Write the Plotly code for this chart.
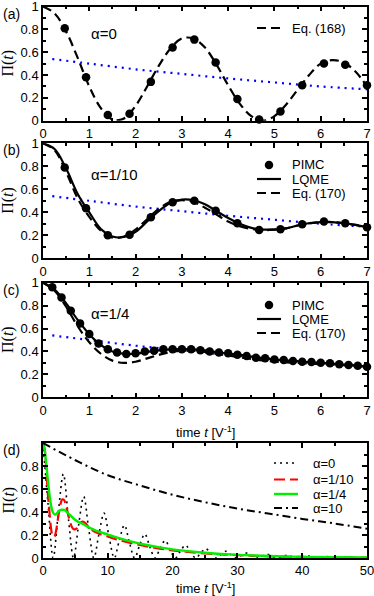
import plotly.graph_objects as go
from plotly.subplots import make_subplots

# ---- data ----
# common time grid for the curves of panels (a)-(c)
t_fine = [0, 0.25, 0.5, 0.75, 1.0, 1.25, 1.5, 1.75, 2.0, 2.25, 2.5, 2.75, 3.0, 3.25, 3.5,
          3.75, 4.0, 4.25, 4.5, 4.75, 5.0, 5.25, 5.5, 5.75, 6.0, 6.25, 6.5, 6.75, 7.0]

# blue dotted guide (same in a, b, c)
t_blue = [0.2, 1, 2, 3, 4, 5, 6, 7]
blue = [0.54, 0.50, 0.45, 0.41, 0.37, 0.335, 0.30, 0.275]

# (a) alpha = 0
t_pimc_ab = [0.47, 0.93, 1.4, 1.87, 2.33, 2.8, 3.27, 3.73, 4.2, 4.67, 5.13, 5.6, 6.07, 6.53, 7.0]
pimc_a = [0.81, 0.38, 0.05, 0.06, 0.34, 0.64, 0.71, 0.51, 0.19, 0.01, 0.08, 0.31, 0.50, 0.49, 0.31]
eq168 = [1.0, 0.94, 0.78, 0.55, 0.30, 0.11, 0.01, 0.02, 0.13, 0.30, 0.48, 0.63, 0.72, 0.72, 0.64,
         0.49, 0.31, 0.15, 0.04, 0.0, 0.04, 0.14, 0.27, 0.40, 0.50, 0.53, 0.51, 0.43, 0.30]

# (b) alpha = 1/10
pimc_b = [0.79, 0.435, 0.2, 0.205, 0.357, 0.487, 0.50, 0.414, 0.304, 0.246, 0.252, 0.296, 0.319, 0.304, 0.27]
lqme_b = [1.0, 0.95, 0.78, 0.56, 0.40, 0.255, 0.19, 0.185, 0.23, 0.32, 0.41, 0.48, 0.51, 0.505, 0.47,
          0.41, 0.35, 0.30, 0.265, 0.25, 0.25, 0.26, 0.285, 0.305, 0.315, 0.315, 0.305, 0.29, 0.27]
eq170_b = [1.0, 0.94, 0.75, 0.52, 0.36, 0.24, 0.18, 0.19, 0.25, 0.34, 0.43, 0.49, 0.505, 0.49, 0.44,
           0.38, 0.32, 0.28, 0.255, 0.245, 0.25, 0.26, 0.285, 0.305, 0.315, 0.315, 0.305, 0.29, 0.27]

# (c) alpha = 1/4
t_pimc_c = [0.2, 0.4, 0.6, 0.8, 1.0, 1.2, 1.4, 1.6, 1.8, 2.0, 2.2, 2.4, 2.6, 2.8, 3.0, 3.2, 3.4,
            3.6, 3.8, 4.0, 4.2, 4.4, 4.6, 4.8, 5.0, 5.2, 5.4, 5.6, 5.8, 6.0, 6.2, 6.4, 6.6, 6.8, 7.0]
pimc_c = [0.96, 0.87, 0.756, 0.645, 0.552, 0.47, 0.42, 0.39, 0.378, 0.384, 0.40, 0.407, 0.419, 0.42,
          0.42, 0.42, 0.41, 0.40, 0.39, 0.384, 0.372, 0.36, 0.346, 0.34, 0.33, 0.326, 0.317, 0.31,
          0.308, 0.302, 0.297, 0.288, 0.282, 0.276, 0.267]
lqme_c = [1.0, 0.94, 0.82, 0.675, 0.55, 0.455, 0.40, 0.38, 0.38, 0.395, 0.41, 0.418, 0.42, 0.418, 0.41,
          0.395, 0.382, 0.37, 0.355, 0.342, 0.33, 0.322, 0.313, 0.307, 0.30, 0.294, 0.285, 0.277, 0.268]
eq170_c = [1.0, 0.93, 0.79, 0.62, 0.48, 0.38, 0.32, 0.30, 0.31, 0.34, 0.37, 0.395, 0.405, 0.405, 0.395,
           0.38, 0.365, 0.35, 0.335, 0.322, 0.312, 0.305, 0.30, 0.295, 0.29, 0.286, 0.28, 0.274, 0.267]

# (d) long times
t_d0 = [0, 0.79, 1.57, 2.36, 3.14, 3.93, 4.71, 5.50, 6.28, 7.07, 7.85, 8.64, 9.42, 10.21, 11.0,
        11.78, 12.57, 13.35, 14.14, 14.92, 15.71, 16.49, 17.28, 18.06, 18.85, 19.63, 20.42, 21.21,
        21.99, 22.78, 23.56, 24.35, 25.13, 25.92, 26.70, 27.49, 28.27, 29.06, 29.85, 30.63, 31.42,
        32.20, 32.99, 33.77, 34.56, 35.34, 36.13, 36.91, 37.70, 38.48, 39.27, 40.06, 40.84, 41.63,
        42.41, 43.20, 43.98, 44.77, 45.55, 46.34, 47.12, 47.91, 48.69, 49.48, 50.27]
d_a0 = [1.0, 0.462, 0, 0.395, 0.730, 0.338, 0, 0.289, 0.534, 0.247, 0, 0.211, 0.390, 0.180, 0,
        0.154, 0.285, 0.132, 0, 0.112, 0.208, 0.096, 0, 0.082, 0.152, 0.070, 0, 0.060, 0.111,
        0.051, 0, 0.044, 0.081, 0.037, 0, 0.032, 0.059, 0.027, 0, 0.023, 0.043, 0.020, 0, 0.017,
        0.032, 0.015, 0, 0.012, 0.023, 0.011, 0, 0.009, 0.017, 0.008, 0, 0.007, 0.012, 0.006, 0,
        0.005, 0.009, 0.004, 0, 0.004, 0.007]
t_tail = [7.5, 8, 8.5, 9, 10, 11, 12, 14, 16, 18, 20, 22, 25, 28, 31, 35, 40, 45, 50]
tail_a10 = [0.245, 0.228, 0.215, 0.205, 0.187, 0.168, 0.152, 0.125, 0.101, 0.082, 0.067, 0.055,
            0.040, 0.030, 0.022, 0.015, 0.009, 0.005, 0.003]
tail_a4 = [0.255, 0.243, 0.232, 0.222, 0.204, 0.185, 0.168, 0.138, 0.113, 0.092, 0.075, 0.062,
           0.046, 0.034, 0.025, 0.017, 0.010, 0.006, 0.004]
t_a10 = [0, 5, 10, 15, 20, 25, 30, 35, 40, 45, 50]
d_a10 = [1.0, 0.85, 0.72, 0.63, 0.55, 0.485, 0.43, 0.385, 0.34, 0.30, 0.255]

PIMC_ERR = 0.02

# ---- figure ----
fig = make_subplots(rows=4, cols=1)

FONT = "Liberation Sans"
DASH = "9px,5px"
RDASH = "11px,5px"
DOT_D = "2px,4px"
DASHDOT = "8px,4px,2px,4px"
GREEN = "#00ee00"
RED = "#ff0000"


def add_panel(row, pimc_t, pimc_y, curves):
    fig.add_trace(go.Scatter(x=t_blue, y=blue, mode="lines", line_shape="spline",
                             line=dict(color="#0000ff", width=2.2, dash="2px,5px"),
                             hoverinfo="skip"), row=row, col=1)
    for name, y, dash in curves:
        fig.add_trace(go.Scatter(x=t_fine, y=y, mode="lines", name=name, line_shape="spline",
                                 line=dict(color="black", width=2.2, dash=dash)), row=row, col=1)
    fig.add_trace(go.Scatter(x=pimc_t, y=pimc_y, mode="markers", name="PIMC",
                             marker=dict(color="black", size=8.5),
                             error_y=dict(type="constant", value=PIMC_ERR, color="black",
                                          thickness=1.2, width=2),
                             cliponaxis=False), row=row, col=1)


add_panel(1, t_pimc_ab, pimc_a, [("Eq. (168)", eq168, DASH)])
add_panel(2, t_pimc_ab, pimc_b, [("LQME", lqme_b, "solid"), ("Eq. (170)", eq170_b, DASH)])
add_panel(3, t_pimc_c, pimc_c, [("LQME", lqme_c, "solid"), ("Eq. (170)", eq170_c, DASH)])

fig.add_trace(go.Scatter(x=t_d0, y=d_a0, mode="lines", name="\u03b1=0", line_shape="spline",
                         line=dict(color="black", width=1.6, dash=DOT_D)), row=4, col=1)
fig.add_trace(go.Scatter(x=t_fine + t_tail, y=lqme_b + tail_a10, mode="lines", name="\u03b1=1/10",
                         line_shape="spline", line=dict(color=RED, width=2.2, dash=RDASH)),
              row=4, col=1)
fig.add_trace(go.Scatter(x=t_fine + t_tail, y=lqme_c + tail_a4, mode="lines", name="\u03b1=1/4",
                         line_shape="spline", line=dict(color=GREEN, width=2.4)), row=4, col=1)
fig.add_trace(go.Scatter(x=t_a10, y=d_a10, mode="lines", name="\u03b1=10", line_shape="spline",
                         line=dict(color="black", width=2, dash=DASHDOT)), row=4, col=1)

# ---- axes ----
W, H, L = 374, 596, 43
PW = 324
panels = [(6.5, 120.7), (143.3, 258.3), (282.7, 397.3), (443, 558)]

axis_common = dict(showline=True, linecolor="black", linewidth=1.5, mirror="allticks",
                   ticks="inside", ticklen=5, tickwidth=1.5, tickcolor="black",
                   showgrid=False, zeroline=False, automargin=False,
                   ticklabeloverflow="allow",
                   tickfont=dict(family=FONT, size=13, color="black"))
for i, (top, bot) in enumerate(panels, start=1):
    dom = [1 - bot / H, 1 - top / H]
    if i < 4:
        fig.update_xaxes(range=[0, 7], dtick=1, tick0=0,
                         minor=dict(dtick=0.5, ticks="inside", ticklen=3, tickcolor="black"),
                         row=i, col=1, **axis_common)
        fig.update_yaxes(range=[0, 1], dtick=0.2, tick0=0, domain=dom,
                         minor=dict(dtick=0.1, ticks="inside", ticklen=3, tickcolor="black"),
                         row=i, col=1, **axis_common)
    else:
        fig.update_xaxes(range=[0, 50], dtick=10, tick0=0,
                         minor=dict(dtick=5, ticks="inside", ticklen=3, tickcolor="black"),
                         row=i, col=1, **axis_common)
        fig.update_yaxes(range=[0, 1], tickvals=[0, 0.2, 0.4, 0.6, 0.8], domain=dom,
                         minor=dict(dtick=0.1, ticks="inside", ticklen=3, tickcolor="black"),
                         row=i, col=1, **axis_common)


def px(x):
    return (x - L) / PW


def py(y):
    return 1 - y / H


# ---- annotations ----
ann = []
for lab, (top, bot) in zip(["(a)", "(b)", "(c)", "(d)"], panels):
    ann.append(dict(text=lab, xref="paper", yref="paper", x=px(1), y=py(top + 7),
                    xanchor="left", yanchor="middle", showarrow=False,
                    font=dict(family=FONT, size=14, color="black")))
    ann.append(dict(text="\u03a0(<i>t</i>)", xref="paper", yref="paper", x=px(8),
                    y=py((top + bot) / 2), textangle=-90, xanchor="center", yanchor="middle",
                    showarrow=False, font=dict(family="Liberation Serif", size=16, color="black")))

for ax, txt, yv in [("", "\u03b1=0", 0.76), ("2", "\u03b1=1/10", 0.725), ("3", "\u03b1=1/4", 0.735)]:
    ann.append(dict(text=txt, xref="x" + ax, yref="y" + ax, x=1.0, y=yv, xanchor="left",
                    yanchor="middle", showarrow=False,
                    font=dict(family=FONT, size=15, color="black")))

for ypx in [432, 588]:
    ann.append(dict(text="time <i>t</i> [V<sup>-1</sup>]", xref="paper", yref="paper", x=0.5,
                    y=py(ypx), xanchor="center", yanchor="middle", showarrow=False,
                    font=dict(family=FONT, size=13, color="black")))

# ---- in-panel keys (sample + label) ----
shapes = []
# (label, style, color, width, y pixel, sample x0, sample x1, text x)
keys = [
    ("Eq. (168)", DASH, "black", 2.2, 28, 257, 281, 290),
    ("PIMC", "marker", "black", 0, 165, 257, 281, 290),
    ("LQME", "solid", "black", 2.2, 179, 257, 281, 290),
    ("Eq. (170)", DASH, "black", 2.2, 193, 257, 281, 290),
    ("PIMC", "marker", "black", 0, 305, 257, 281, 290),
    ("LQME", "solid", "black", 2.2, 319, 257, 281, 290),
    ("Eq. (170)", DASH, "black", 2.2, 333, 257, 281, 290),
    ("\u03b1=0", DOT_D, "black", 1.6, 463, 274, 298, 311),
    ("\u03b1=1/10", RDASH, RED, 2.2, 479.5, 274, 298, 311),
    ("\u03b1=1/4", "solid", GREEN, 2.4, 494, 274, 298, 311),
    ("\u03b1=10", DASHDOT, "black", 2, 508, 274, 298, 311),
]
for text, style, color, width, yk, x0, x1, xt in keys:
    if style == "marker":
        cx, r = (x0 + x1) / 2, 4.25
        shapes.append(dict(type="circle", xref="paper", yref="paper",
                           x0=px(cx - r), x1=px(cx + r), y0=py(yk + r), y1=py(yk - r),
                           fillcolor="black", line=dict(color="black", width=0)))
    else:
        shapes.append(dict(type="line", xref="paper", yref="paper",
                           x0=px(x0), x1=px(x1), y0=py(yk), y1=py(yk),
                           line=dict(color=color, width=width, dash=style)))
    ann.append(dict(text=text, xref="paper", yref="paper", x=px(xt), y=py(yk),
                    xanchor="left", yanchor="middle", showarrow=False,
                    font=dict(family=FONT, size=13, color="black")))

fig.update_layout(
    width=W, height=H,
    margin=dict(l=L, r=7, t=0, b=0, autoexpand=False),
    plot_bgcolor="white", paper_bgcolor="white",
    showlegend=False,
    annotations=ann,
    shapes=shapes,
)

# drop the default page margin so the 374x596 figure sits at the window origin
fig.write_html("out.html", config={"displayModeBar": False},
               post_script="document.body.style.margin='0';")
